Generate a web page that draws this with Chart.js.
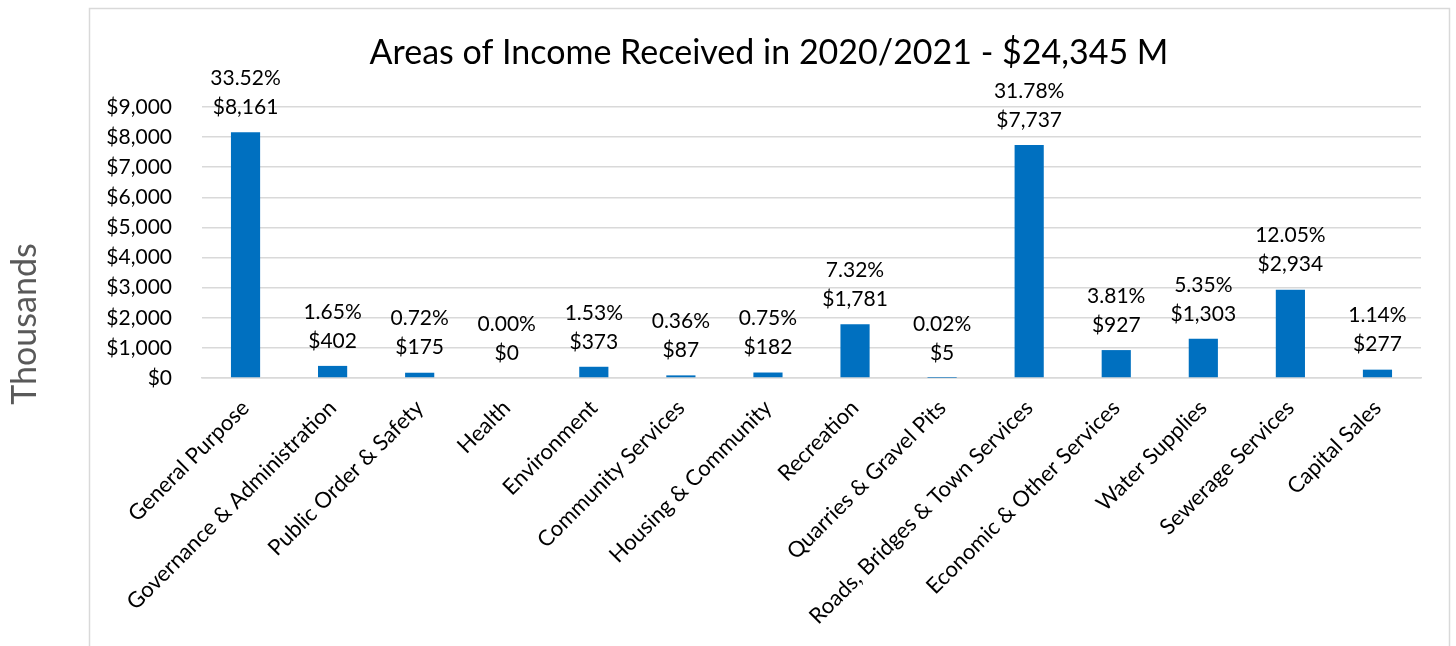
<!DOCTYPE html>
<html>
<head>
<meta charset="utf-8">
<script src="https://cdn.jsdelivr.net/npm/chart.js@4"></script>
<style>
  html, body { margin: 0; padding: 0; background: #ffffff; }
  #wrap { position: relative; width: 1456px; height: 646px; }
</style>
</head>
<body>
<div id="wrap"><canvas id="chart" width="1456" height="646"></canvas></div>
<script>
// Income areas, values in thousands of dollars
const categories = [
  'General Purpose', 'Governance & Administration', 'Public Order & Safety', 'Health',
  'Environment', 'Community Services', 'Housing & Community', 'Recreation',
  'Quarries & Gravel Pits', 'Roads, Bridges & Town Services', 'Economic & Other Services',
  'Water Supplies', 'Sewerage Services', 'Capital Sales'
];
const incomeValues = [8161, 402, 175, 0, 373, 87, 182, 1781, 5, 7737, 927, 1303, 2934, 277];
const sharePercent = ['33.52%', '1.65%', '0.72%', '0.00%', '1.53%', '0.36%', '0.75%', '7.32%', '0.02%', '31.78%', '3.81%', '5.35%', '12.05%', '1.14%'];
const titleText = 'Areas of Income Received in 2020/2021 - $24,345 M';
const axisTitle = 'Thousands';
const yMin = 0, yMax = 9000, yStep = 1000;

const FONT = 'Lato, "Open Sans", sans-serif';
const money = v => '$' + v.toLocaleString('en-US');

// Frame around the chart body, heading centred on the frame, and the side caption
const framePlugin = {
  id: 'frame',
  beforeDraw(chart) {
    const ctx = chart.ctx;
    ctx.save();
    ctx.strokeStyle = '#d9d9d9';
    ctx.lineWidth = 1.5;
    ctx.strokeRect(89.5, 8.5, 1360, 700);
    ctx.restore();
  },
  afterDraw(chart) {
    const ctx = chart.ctx;
    ctx.save();
    ctx.textAlign = 'center';
    ctx.textBaseline = 'middle';
    ctx.fillStyle = '#000000';
    ctx.font = '34px ' + FONT;
    ctx.fillText(titleText, 769, 53);
    ctx.translate(25, 324);
    ctx.rotate(-Math.PI / 2);
    ctx.fillStyle = '#595959';
    ctx.font = '34px ' + FONT;
    ctx.fillText(axisTitle, 0, 0);
    ctx.restore();
  }
};

// Two-line labels (share and amount) above each bar
const barLabels = {
  id: 'barLabels',
  afterDatasetsDraw(chart) {
    const ctx = chart.ctx;
    const meta = chart.getDatasetMeta(0);
    ctx.save();
    ctx.font = '21px ' + FONT;
    ctx.fillStyle = '#000000';
    ctx.textAlign = 'center';
    ctx.textBaseline = 'middle';
    meta.data.forEach((bar, i) => {
      const v = chart.data.datasets[0].data[i];
      ctx.fillText(money(v), bar.x, bar.y - 25);
      ctx.fillText(sharePercent[i], bar.x, bar.y - 54);
    });
    ctx.restore();
  }
};

new Chart(document.getElementById('chart'), {
  type: 'bar',
  data: {
    labels: categories,
    datasets: [{
      data: incomeValues,
      backgroundColor: '#0070c0',
      borderWidth: 0,
      categoryPercentage: 1,
      barPercentage: 0.335
    }]
  },
  options: {
    responsive: false,
    animation: false,
    layout: { padding: { left: 0, right: 35, top: 107, bottom: 0 } },
    plugins: {
      legend: { display: false },
      tooltip: { enabled: false },
      title: { display: false }
    },
    scales: {
      x: {
        grid: { display: false, drawTicks: false },
        border: { display: true, color: '#d9d9d9', width: 1.5 },
        ticks: {
          color: '#000000',
          font: { family: FONT, size: 22 },
          maxRotation: 45,
          minRotation: 45,
          autoSkip: false,
          padding: 17
        },
        afterFit(scale) { scale.height = 268; }
      },
      y: {
        min: yMin,
        max: yMax,
        grid: { color: '#d9d9d9', lineWidth: 1.5, drawTicks: false },
        border: { display: false },
        ticks: {
          stepSize: yStep,
          color: '#000000',
          font: { family: FONT, size: 21 },
          padding: 30,
          callback: v => money(v)
        },
        afterFit(scale) { scale.width = 202; }
      }
    }
  },
  plugins: [framePlugin, barLabels]
});
</script>
</body>
</html>
